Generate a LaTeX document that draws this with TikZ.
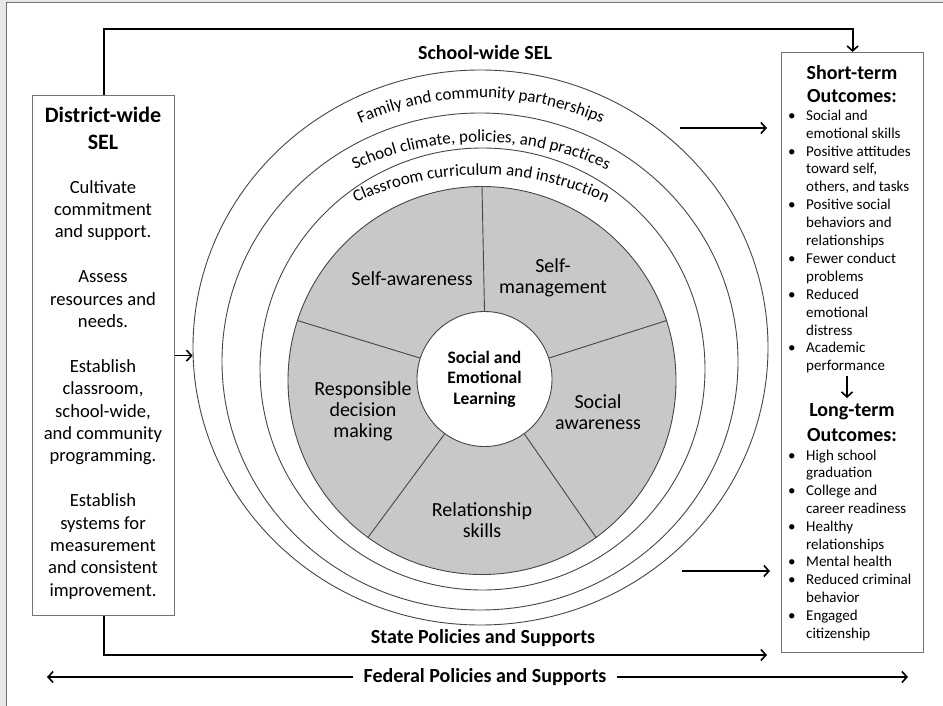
\documentclass[tikz,border=0pt]{standalone}
\usepackage{fontspec}
\setmainfont{Carlito}
\usetikzlibrary{arrows.meta,shapes.geometric,decorations.text,calc}
\newcommand\fsz[2]{\fontsize{#1bp}{#2bp}\selectfont}
\newcommand\ringfont{\fontsize{17bp}{20bp}\selectfont}
\definecolor{wheelgray}{RGB}{200,200,202}
\definecolor{ringline}{RGB}{70,70,70}
\definecolor{boxline}{RGB}{115,115,115}
\definecolor{framegray}{RGB}{232,232,232}
\begin{document}
\begin{tikzpicture}[x=1bp,y=1bp,
  arr/.style={line width=2bp, -{Straight Barb[length=5bp,width=11bp,line width=1.6bp]}},
  arrboth/.style={line width=2bp, {Straight Barb[length=5bp,width=11bp,line width=1.6bp]}-{Straight Barb[length=5bp,width=11bp,line width=1.6bp]}},
  ring/.style={ellipse, draw=ringline, fill=white, line width=0.9bp, inner sep=0},
  box/.style={draw=boxline, line width=1.2bp, fill=white, inner sep=0},
  seglabel/.style={align=center, font=\fsz{20}{21}, inner sep=0},
  head/.style={align=center, font=\bfseries\fsz{20}{23}, inner sep=0},
  ringtext/.style={decorate, decoration={text along path, text align=center, text={#1}}}
]
\useasboundingbox (0,0) rectangle (943,-706);
% frame
\fill[framegray] (0,0) rectangle (943,-706);
\fill[white] (6,-3) rectangle (943,-706);
\draw[line width=1bp, black!55] (6,-706) -- (6,-3) -- (943,-3);

% rings
\node[ring, minimum width=575bp, minimum height=555bp] (c1) at (480.5,-347.5) {};
\node[ring, minimum width=516bp, minimum height=497bp] (c2) at (480,-361.5) {};
\node[ring, minimum width=445bp, minimum height=442bp] (c3) at (482.5,-369) {};
\node[circle, draw=ringline, fill=wheelgray, line width=0.9bp, minimum size=388bp, inner sep=0] (wheel) at (482,-380.5) {};
\node[circle, draw=ringline, fill=white, line width=0.9bp, minimum size=135bp, inner sep=0, align=center, font=\bfseries\fsz{17.5}{20.5}] (sel) at (484.5,-379) {Social and\\Emotional\\Learning};
\foreach \a in {90,18,-54,-126,162}
  \draw[ringline, line width=0.9bp] (sel.\a) -- (wheel.\a);

% ring texts
\path[ringtext={|\ringfont|Family and community partnerships}]
  ($(481,-398)+(150:300)$) arc[start angle=150, end angle=30, radius=300];
\path[ringtext={|\ringfont|School climate, policies, and practices}]
  ($(481,-442)+(150:300)$) arc[start angle=150, end angle=30, radius=300];
\path[ringtext={|\ringfont|Classroom curriculum and instruction}]
  ($(481,-472)+(150:297)$) arc[start angle=150, end angle=30, radius=297];

% segment labels
\node[seglabel] (sa) at (412,-279) {Self-awareness};
\node[seglabel] (sm) at (553,-278) {Self-\\management};
\node[seglabel] (soa) at (598,-412) {Social\\awareness};
\node[seglabel] (rdm) at (363,-411) {Responsible\\decision\\making};
\node[seglabel] (rs) at (482,-520) {Relationship\\skills};

% titles
\node[head] (school) at (485,-53) {School-wide SEL};
\node[head] (state) at (483,-638) {State Policies and Supports};

% district box
\node[box, minimum width=142bp, minimum height=520bp, anchor=north west] (dist) at (32,-95) {};
\node[align=center, font=\bfseries\fsz{22}{27}, inner sep=0] (disth) at (103,-128) {District-wide\\SEL};
\node[align=center, font=\fsz{18.6}{22.4}, inner sep=0, anchor=north] (distb) at (103,-180) {Cultivate\\commitment\\and support.\\[22.4bp]Assess\\resources and\\needs.\\[22.4bp]Establish\\classroom,\\school-wide,\\and community\\programming.\\[22.4bp]Establish\\systems for\\measurement\\and consistent\\improvement.};

% outcomes box
\node[box, minimum width=142bp, minimum height=600bp, anchor=north west] (st) at (781,-52) {};
\node[head] (sth) at (852,-84) {Short-term\\Outcomes:};
\node[anchor=north west, inner sep=0, font=\fsz{15}{17.9}] (slist) at (788,-107.5) {\begin{tabular}{@{}p{18bp}@{}l@{}}
\textbullet & Social and\\
 & emotional skills\\
\textbullet & Positive attitudes\\
 & toward self,\\
 & others, and tasks\\
\textbullet & Positive social\\
 & behaviors and\\
 & relationships\\
\textbullet & Fewer conduct\\
 & problems\\
\textbullet & Reduced\\
 & emotional\\
 & distress\\
\textbullet & Academic\\
 & performance
\end{tabular}};
\node[head, font=\bfseries\fsz{20}{24.5}] (lth) at (852,-422.5) {Long-term\\Outcomes:};
\node[anchor=north west, inner sep=0, font=\fsz{15}{17.8}] (llist) at (788,-447.5) {\begin{tabular}{@{}p{18bp}@{}l@{}}
\textbullet & High school\\
 & graduation\\
\textbullet & College and\\
 & career readiness\\
\textbullet & Healthy\\
 & relationships\\
\textbullet & Mental health\\
\textbullet & Reduced criminal\\
 & behavior\\
\textbullet & Engaged\\
 & citizenship
\end{tabular}};

% connectors
\draw[arr] (dist.north) -- ++(0,66) -| (st.north);
\coordinate (stend) at (767,-655);
\draw[arr] (dist.south) |- (stend);
\draw[arr, line width=1.5bp] (dist.east) -- (dist.east -| c1.west);
\coordinate (a1s) at (680,-128);
\coordinate (a1e) at (767,-128);
\draw[arr] (a1s) -- (a1e);
\coordinate (a2s) at (682,-571);
\coordinate (a2e) at (770,-571);
\draw[arr] (a2s) -- (a2e);
\coordinate (dn1) at (847,-376);
\coordinate (dn2) at (847,-398);
\draw[arr, line width=1.5bp] (dn1) -- (dn2);

% federal
\node[head, inner xsep=10bp, inner ysep=2bp] (fed) at (485,-677) {Federal Policies and Supports};
\coordinate (fedL) at (47,-677);
\coordinate (fedR) at (908,-677);
\draw[arr] (fed.west) -- (fedL);
\draw[arr] (fed.east) -- (fedR);
\end{tikzpicture}
\end{document}
